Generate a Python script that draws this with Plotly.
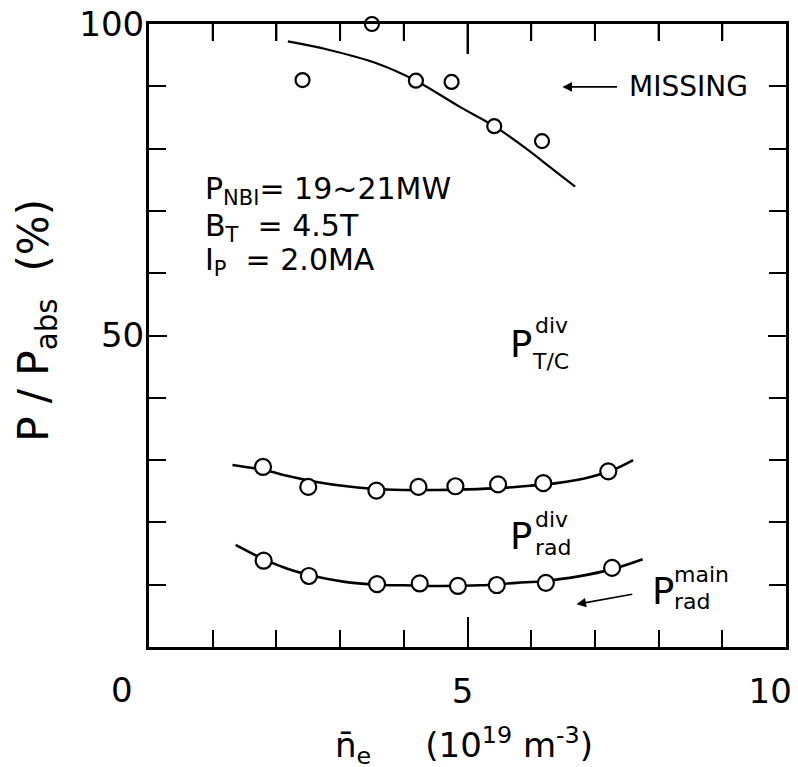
import plotly.graph_objects as go

# ---- data ----
missing_x = [2.41, 3.50, 4.19, 4.75, 5.42, 6.17]
missing_y = [91.0, 100.0, 90.9, 90.7, 83.6, 81.2]

total_x = [1.79, 2.50, 3.57, 4.23, 4.81, 5.48, 6.19, 7.21]
total_y = [28.9, 25.7, 25.1, 25.7, 25.8, 26.1, 26.3, 28.2]

main_x = [1.80, 2.51, 3.58, 4.25, 4.85, 5.46, 6.23, 7.27]
main_y = [13.85, 11.4, 10.1, 10.2, 9.8, 9.95, 10.3, 12.7]

fit_missing_x = [2.18, 2.8, 3.57, 4.19, 4.88, 5.42, 5.88, 6.3, 6.69]
fit_missing_y = [97.2, 95.9, 93.7, 90.9, 86.7, 83.6, 80.3, 77.0, 73.9]

fit_total_x = [1.31, 1.8, 2.2, 2.63, 3.1, 3.5, 4.0, 4.5, 5.0, 5.5, 6.0, 6.4, 6.93, 7.3, 7.6]
fit_total_y = [29.2, 28.4, 27.4, 26.5, 25.8, 25.4, 25.2, 25.2, 25.3, 25.5, 25.9, 26.3, 27.3, 28.5, 30.0]

fit_main_x = [1.36, 1.8, 2.16, 2.5, 3.05, 3.6, 4.0, 4.5, 5.2, 5.77, 6.2, 6.72, 7.27, 7.75]
fit_main_y = [16.4, 14.1, 12.6, 11.6, 10.5, 10.0, 9.9, 9.8, 9.9, 10.3, 10.6, 11.3, 12.5, 14.1]

x_tick_vals = [5, 10]
x_tick_text = ["5", "10\u00a0\u00a0"]
y_tick_vals = [50, 100]
y_tick_text = ["50", "100"]
top_minor_ticks = [1, 2, 3, 4, 6, 7, 8, 9]
top_major_ticks = [5]

TXT = "DejaVu Sans, sans-serif"
NUM = "DejaVu Sans, sans-serif"
BLACK = "#000000"
Y_MAX = 100
MINOR_LEN = 2.7   # tick length in y units (~17 px)
MAJOR_LEN = 4.8   # (~30 px)

fig = go.Figure()

# tick marks hanging down from the top frame edge, at the x tick positions
tx, ty = [], []
for v in top_minor_ticks:
    tx += [v, v, None]
    ty += [Y_MAX, Y_MAX - MINOR_LEN, None]
for v in top_major_ticks:
    tx += [v, v, None]
    ty += [Y_MAX, Y_MAX - MAJOR_LEN, None]
fig.add_trace(go.Scatter(x=tx, y=ty, mode="lines", line=dict(color=BLACK, width=2), hoverinfo="skip",
                         showlegend=False, connectgaps=False))

for fx, fy, w in [(fit_missing_x, fit_missing_y, 2.2), (fit_total_x, fit_total_y, 2.6), (fit_main_x, fit_main_y, 2.6)]:
    fig.add_trace(go.Scatter(x=fx, y=fy, mode="lines", line=dict(color=BLACK, width=w, shape="spline", smoothing=1.0),
                             hoverinfo="skip", showlegend=False))

for px, py, s in [(missing_x, missing_y, 14), (total_x, total_y, 16), (main_x, main_y, 16)]:
    fig.add_trace(go.Scatter(x=px, y=py, mode="markers", cliponaxis=False,
                             marker=dict(symbol="circle", size=s, color="white", line=dict(color=BLACK, width=2.2)),
                             showlegend=False))

ann = []
# parameter block
ann.append(dict(x=0.84, y=73.2, text="P<sub>NBI</sub>= 19~21MW", xanchor="left", yanchor="middle", font=dict(size=30, family=TXT)))
ann.append(dict(x=0.84, y=67.4, text="B<sub>T</sub>  = 4.5T", xanchor="left", yanchor="middle", font=dict(size=30, family=TXT)))
ann.append(dict(x=0.84, y=61.8, text="I<sub>P</sub>  = 2.0MA", xanchor="left", yanchor="middle", font=dict(size=30, family=TXT)))
# MISSING
ann.append(dict(x=7.51, y=89.9, text="MISSING", xanchor="left", yanchor="middle", font=dict(size=28, family=TXT)))
ann.append(dict(x=6.49, y=89.9, ax=7.37, ay=89.9, axref="x", ayref="y", text="", showarrow=True,
                arrowhead=2, arrowsize=1.2, arrowwidth=1.6, arrowcolor=BLACK))
# P_T/C^div
ann.append(dict(x=5.64, y=48.5, text="P", xanchor="left", yanchor="middle", font=dict(size=37, family=TXT)))
ann.append(dict(x=6.03, y=51.6, text="div", xanchor="left", yanchor="middle", font=dict(size=22, family=TXT)))
ann.append(dict(x=5.98, y=45.9, text="T/C", xanchor="left", yanchor="middle", font=dict(size=22, family=TXT)))
# P_rad^div
ann.append(dict(x=5.64, y=17.7, text="P", xanchor="left", yanchor="middle", font=dict(size=37, family=TXT)))
ann.append(dict(x=6.03, y=20.4, text="div", xanchor="left", yanchor="middle", font=dict(size=22, family=TXT)))
ann.append(dict(x=6.03, y=16.0, text="rad", xanchor="left", yanchor="middle", font=dict(size=22, family=TXT)))
# P_rad^main
ann.append(dict(x=7.86, y=8.9, text="P", xanchor="left", yanchor="middle", font=dict(size=37, family=TXT)))
ann.append(dict(x=8.21, y=11.7, text="main", xanchor="left", yanchor="middle", font=dict(size=22, family=TXT)))
ann.append(dict(x=8.21, y=7.3, text="rad", xanchor="left", yanchor="middle", font=dict(size=22, family=TXT)))
ann.append(dict(x=6.71, y=6.85, ax=7.61, ay=8.5, axref="x", ayref="y", text="", showarrow=True,
                arrowhead=2, arrowsize=1.2, arrowwidth=1.6, arrowcolor=BLACK))
# corner zero label
ann.append(dict(x=-0.043, y=-0.069, xref="paper", yref="paper", text="0", xanchor="center", yanchor="middle",
                font=dict(size=34, family=NUM)))
# axis titles
ann.append(dict(x=-0.176, y=0.525, xref="paper", yref="paper", text="P / P<sub>abs</sub>  (%)", textangle=-90,
                xanchor="center", yanchor="middle", font=dict(size=42, family=NUM)))
ann.append(dict(x=0.495, y=-0.158, xref="paper", yref="paper", text="n\u0304<sub>e</sub>     (10<sup>19</sup> m<sup>-3</sup>)",
                xanchor="center", yanchor="middle", font=dict(size=34, family=TXT)))

for a in ann:
    a.setdefault("showarrow", False)
    a.setdefault("xref", "x")
    a.setdefault("yref", "y")
    a.setdefault("font", {})
    a["font"].setdefault("color", BLACK)

# page body has an 8px margin, so the figure is 8px smaller and margins are shifted accordingly
fig.update_layout(
    width=790, height=759,
    margin=dict(l=141, r=12, t=16, b=120, autoexpand=False),
    paper_bgcolor="white", plot_bgcolor="white",
    showlegend=False,
    annotations=ann,
    xaxis=dict(range=[0, 10], showgrid=False, zeroline=False, showline=True, linecolor=BLACK, linewidth=3,
               mirror="ticks", ticks="inside", ticklen=30, tickwidth=2, tickcolor=BLACK, automargin=False,
               tickvals=x_tick_vals, ticktext=x_tick_text,
               ticklabelstandoff=12, ticklabelshift=-5, ticklabeloverflow="allow",
               tickfont=dict(size=34, family=NUM, color=BLACK),
               minor=dict(dtick=1, tick0=0, ticks="inside", ticklen=17, tickwidth=2, tickcolor=BLACK, showgrid=False)),
    yaxis=dict(range=[0, 100], showgrid=False, zeroline=False, showline=True, linecolor=BLACK, linewidth=3,
               mirror="ticks", ticks="inside", ticklen=18, tickwidth=2, tickcolor=BLACK, automargin=False,
               tickvals=y_tick_vals, ticktext=y_tick_text, ticklabelstandoff=-5, ticklabeloverflow="allow",
               tickfont=dict(size=34, family=NUM, color=BLACK), layer="below traces",
               minor=dict(dtick=10, tick0=0, ticks="inside", ticklen=17, tickwidth=2, tickcolor=BLACK, showgrid=False)),
)

fig.write_html("out.html")
